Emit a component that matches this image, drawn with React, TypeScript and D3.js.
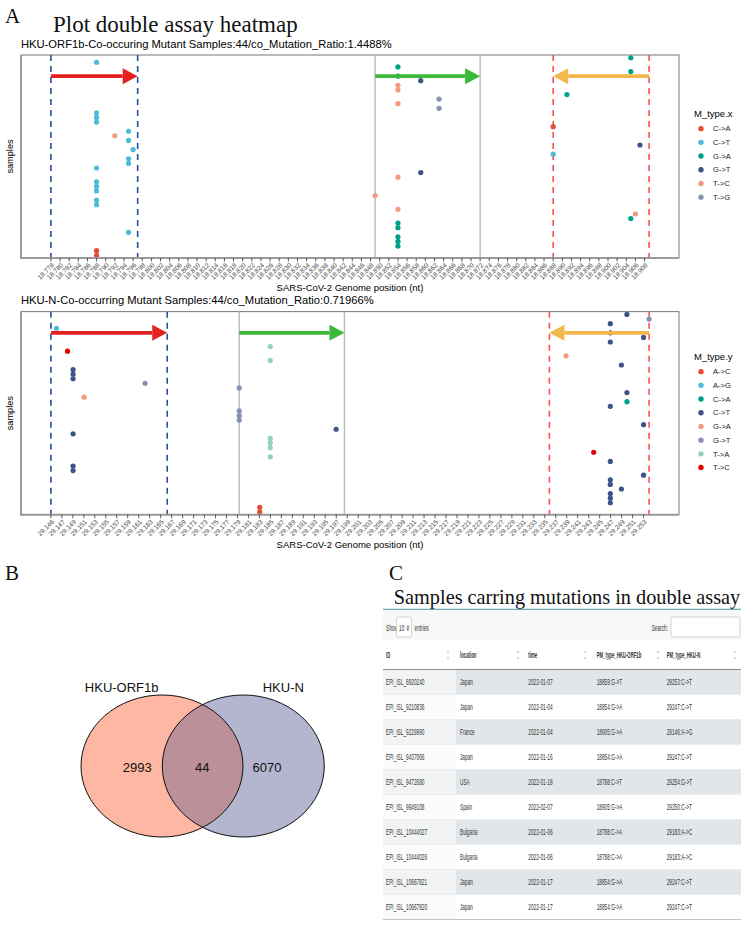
import React from "react";
import * as d3 from "d3";

const SANS = "'Liberation Sans', Arial, Helvetica, sans-serif";
const SERIF = "'Liberation Serif', 'Times New Roman', serif";

// npg palette (ggsci)
const npgColors = ["#E64B35", "#4DBBD5", "#00A087", "#3C5488", "#F39B7F", "#8491B4", "#91D1C2", "#DC0000"];

// ---- panel A, HKU-ORF1b (one point per sample, samples listed top to bottom)
const orf1bTypes = ["C->A", "C->T", "G->A", "G->T", "T->C", "T->G"];
const orf1bPositions = [
  18905, 18788, 18854, 18905, 18854, 18859, 18854, 18854, 18891, 18863, 18854,
  18863, 18788, 18788, 18788, 18888, 18795, 18792, 18795, 18907, 18796, 18888,
  18795, 18795, 18788, 18859, 18854, 18788, 18788, 18788, 18849, 18788, 18788,
  18854, 18906, 18905, 18854, 18854, 18795, 18854, 18854, 18854, 18788, 18788,
];
const orf1bMutations = [
  "G->A", "C->T", "G->A", "G->A", "G->A", "G->T", "T->C", "T->C", "G->A", "T->G", "T->C",
  "T->G", "C->T", "C->T", "C->T", "C->A", "C->T", "T->C", "C->T", "G->T", "C->T", "C->T",
  "C->T", "C->T", "C->T", "G->T", "T->C", "C->T", "C->T", "C->T", "T->C", "C->T", "C->T",
  "T->C", "T->C", "G->A", "G->A", "G->A", "C->T", "G->A", "G->A", "G->A", "C->A", "C->A",
];
const orf1bDomain = [18778, 18909];
const orf1bBreaks = d3.range(66).map((i) => 18778 + 2 * i);
const orf1bGuides = [18778, 18797, 18849, 18872, 18888, 18909];
const orf1bArrows = [[18778, 18797], [18849, 18872], [18909, 18888]];

// ---- panel A, HKU-N
const nTypes = ["A->C", "A->G", "C->A", "C->T", "G->A", "G->T", "T->A", "T->C"];
const nPositions = [
  29250, 29254, 29247, 29147, 29247, 29253, 29247, 29185.6, 29149, 29239, 29185.6,
  29249, 29150, 29150, 29150, 29163, 29180, 29250, 29152, 29250, 29247, 29180,
  29180, 29180, 29253, 29197.5, 29150, 29185.6, 29185.6, 29185.6, 29244, 29185.6, 29247,
  29150, 29150, 29253, 29247, 29247, 29249, 29247, 29247, 29247, 29183.7, 29183.7,
];
const nMutations = [
  "C->T", "G->T", "C->T", "A->G", "C->T", "C->T", "C->T", "T->A", "T->C", "G->A", "T->A",
  "C->T", "C->T", "C->T", "C->T", "G->T", "G->T", "C->T", "G->A", "C->A", "C->T", "G->T",
  "G->T", "G->T", "C->T", "C->T", "C->T", "T->A", "T->A", "T->A", "T->C", "T->A", "C->T",
  "C->T", "C->T", "C->T", "C->T", "C->T", "C->T", "C->T", "C->T", "C->T", "A->C", "A->C",
];
const nDomain = [29146, 29254];
const nBreaks = d3.range(55).map((i) => 29146 + (i * 107) / 54);
const nGuides = [29146, 29167, 29180, 29199, 29236, 29254];
const nArrows = [[29146, 29167], [29180, 29199], [29254, 29236]];

const guideStyles = [
  { stroke: "#2152A3", dash: "6 5", width: 1.6 },
  { stroke: "#2152A3", dash: "6 5", width: 1.6 },
  { stroke: "#BEBEBE", dash: "", width: 1.5 },
  { stroke: "#BEBEBE", dash: "", width: 1.5 },
  { stroke: "#FF4F4F", dash: "6 5", width: 1.6 },
  { stroke: "#FF4F4F", dash: "6 5", width: 1.6 },
];
const arrowColors = ["#E3211F", "#3CB83A", "#F2B84B"];

// ---- panel B
const vennNames = ["HKU-ORF1b", "HKU-N"];
const vennCounts = [2993, 44, 6070];

// ---- panel C
const tableHeaders = ["ID", "location", "time", "PM_type_HKU-ORF1b", "PM_type_HKU-N"];
const tableIds = [
  "EPI_ISL_8920240", "EPI_ISL_9210836", "EPI_ISL_9229990", "EPI_ISL_9437066", "EPI_ISL_9472680",
  "EPI_ISL_9949108", "EPI_ISL_10444027", "EPI_ISL_10444026", "EPI_ISL_10667821", "EPI_ISL_10667820",
];
const tableLocations = ["Japan", "Japan", "France", "Japan", "USA", "Spain", "Bulgaria", "Bulgaria", "Japan", "Japan"];
const tableTimes = [
  "2022-01-07", "2022-01-04", "2022-01-04", "2022-01-16", "2022-01-18",
  "2022-02-07", "2022-01-06", "2022-01-06", "2022-01-17", "2022-01-17",
];
const tableOrf1b = [
  "18859:G->T", "18854:G->A", "18905:G->A", "18854:G->A", "18788:C->T",
  "18905:G->A", "18788:C->A", "18788:C->A", "18854:G->A", "18854:G->A",
];
const tableN = [
  "29253:C->T", "29247:C->T", "29146:A->G", "29247:C->T", "29254:G->T",
  "29250:C->T", "29183:A->C", "29183:A->C", "29247:C->T", "29247:C->T",
];

interface PanelProps {
  title: string;
  top: number;
  positions: number[];
  mutations: string[];
  types: string[];
  domain: number[];
  breaks: number[];
  guides: number[];
  arrows: number[][];
  legendTitle: string;
}

const Panel: React.FC<PanelProps> = ({ title, top, positions, mutations, types, domain, breaks, guides, arrows, legendTitle }) => {
  const left = 21;
  const right = 679;
  const bottom = top + 203;
  const span = domain[1] - domain[0];
  const x = d3.scaleLinear().domain([domain[0] - 0.05 * span, domain[1] + 0.05 * span]).range([left, right]);
  const y = d3.scalePoint<number>().domain(d3.range(positions.length)).range([top, bottom]).padding(0.6);
  const color = d3.scaleOrdinal<string, string>().domain(types).range(npgColors);
  const fmt = d3.format(",");
  const arrowRow = 4;

  // legend vertically centred on the panel
  const legendH = 14.8 + (types.length - 1) * 13.7;
  const legendTop = (top + bottom) / 2 - 1 - legendH / 2;

  return (
    <g>
      <text x={left} y={top - 7.5} fontSize={11.2} fontFamily={SANS} fill="#000">{title}</text>
      <rect x={left} y={top} width={right - left} height={bottom - top} fill="#fff" stroke="#555" strokeWidth={0.8} />
      {guides.map((g, i) => (
        <line key={"g" + i} x1={x(g)} x2={x(g)} y1={top} y2={bottom}
          stroke={guideStyles[i].stroke} strokeWidth={guideStyles[i].width} strokeDasharray={guideStyles[i].dash} />
      ))}
      {positions.map((p, i) => (
        <circle key={"p" + i} cx={x(p)} cy={y(i)} r={2.6} fill={color(mutations[i])} />
      ))}
      {arrows.map((a, i) => {
        const x0 = x(a[0]);
        const x1 = x(a[1]);
        const dir = x1 > x0 ? 1 : -1;
        const yy = y(arrowRow) as number;
        const headL = 15;
        const headW = 8;
        return (
          <g key={"a" + i}>
            <line x1={x0} x2={x1 - dir * headL} y1={yy} y2={yy} stroke={arrowColors[i]} strokeWidth={3.6} />
            <polygon points={`${x1},${yy} ${x1 - dir * headL},${yy - headW} ${x1 - dir * headL},${yy + headW}`} fill={arrowColors[i]} />
          </g>
        );
      })}
      <line x1={left} x2={left} y1={top} y2={bottom + 1} stroke="#9a9a9a" strokeWidth={2} />
      <line x1={left - 1} x2={right} y1={bottom} y2={bottom} stroke="#9a9a9a" strokeWidth={2} />
      {breaks.map((b, i) => (
        <g key={"t" + i}>
          <line x1={x(b)} x2={x(b)} y1={bottom} y2={bottom + 3.5} stroke="#333" strokeWidth={0.8} />
          <text transform={`translate(${x(b) + 2},${bottom + 6}) rotate(-45)`} textAnchor="end" dy="0.35em"
            fontSize={6.6} fontFamily={SANS} fill="#4d4d4d">{fmt(Math.floor(b + 1e-6))}</text>
        </g>
      ))}
      <text x={(left + right) / 2} y={bottom + 33} textAnchor="middle" fontSize={9.5} fontFamily={SANS} fill="#000">
        SARS-CoV-2 Genome position (nt)
      </text>
      <text transform={`translate(${left - 8},${(top + bottom) / 2}) rotate(-90)`} textAnchor="middle"
        fontSize={9.2} fontFamily={SANS} fill="#000">samples</text>
      <g>
        <text x={694} y={legendTop} dy="0.35em" fontSize={9.5} fontFamily={SANS} fill="#000">{legendTitle}</text>
        {types.map((t, i) => (
          <g key={"l" + i}>
            <circle cx={701} cy={legendTop + 14.8 + i * 13.7} r={2.7} fill={color(t)} />
            <text x={713} y={legendTop + 14.8 + i * 13.7} dy="0.35em" fontSize={7.6} fontFamily={SANS} fill="#222">{t}</text>
          </g>
        ))}
      </g>
    </g>
  );
};

const Venn: React.FC = () => {
  const cx = d3.scaleLinear().domain([0, 1]).range([162, 243.3]);
  const cy = 766;
  const rx = 81;
  const ry = 71;
  return (
    <g>
      <defs>
        <clipPath id="venn-left">
          <ellipse cx={cx(0)} cy={cy} rx={rx} ry={ry} />
        </clipPath>
      </defs>
      <ellipse cx={cx(0)} cy={cy} rx={rx} ry={ry} fill="#FDB7A2" />
      <ellipse cx={cx(1)} cy={cy} rx={rx} ry={ry} fill="#B3B6CE" />
      <ellipse cx={cx(1)} cy={cy} rx={rx} ry={ry} fill="#BB9099" clipPath="url(#venn-left)" />
      <ellipse cx={cx(0)} cy={cy} rx={rx} ry={ry} fill="none" stroke="#111" strokeWidth={1} />
      <ellipse cx={cx(1)} cy={cy} rx={rx} ry={ry} fill="none" stroke="#111" strokeWidth={1} />
      <text x={121.7} y={691.5} textAnchor="middle" fontSize={13} fontFamily={SANS} fill="#111">{vennNames[0]}</text>
      <text x={283.3} y={691.5} textAnchor="middle" fontSize={13} fontFamily={SANS} fill="#111">{vennNames[1]}</text>
      <text x={137.3} y={767.7} dy="0.35em" textAnchor="middle" fontSize={13} fontFamily={SANS} fill="#111">{vennCounts[0]}</text>
      <text x={202.3} y={767.7} dy="0.35em" textAnchor="middle" fontSize={13} fontFamily={SANS} fill="#111">{vennCounts[1]}</text>
      <text x={267} y={767.7} dy="0.35em" textAnchor="middle" fontSize={13} fontFamily={SANS} fill="#111">{vennCounts[2]}</text>
    </g>
  );
};

const Cell: React.FC<{ x: number; y: number; s: string; bold?: boolean; anchor?: string; sx?: number }> = ({ x, y, s, bold, anchor, sx }) => (
  <text transform={`translate(${x},${y}) scale(${sx ?? 0.5},1)`} dy="0.35em" fontSize={9.5} fontFamily={SANS}
    fontWeight={bold ? "bold" : "normal"} textAnchor={anchor ?? "start"} fill="#333">{s}</text>
);

const Table: React.FC = () => {
  const left = 383;
  const right = 741;
  const colX = [386, 460, 528.3, 596.7, 666.7];
  const sortX = [448, 518, 585, 658, 735];
  const rows = d3.scaleBand<number>().domain(d3.range(tableIds.length)).range([669.5, 919.5]);
  const cols = [tableIds, tableLocations, tableTimes, tableOrf1b, tableN];
  return (
    <g>
      <text x={567} y={604} textAnchor="middle" fontSize={20.3} fontFamily={SERIF} fill="#111">
        Samples carring mutations in double assay
      </text>
      <rect x={left} y={609.5} width={right - left} height={30.5} fill="#f8f8f8" />
      <line x1={left} x2={right} y1={609.3} y2={609.3} stroke="#6aaab3" strokeWidth={1.2} />
      <Cell x={386} y={627.3} s="Show" />
      <rect x={396.5} y={617} width={15} height={20} rx={2} fill="#fff" stroke="#c8c8c8" strokeWidth={0.8} />
      <Cell x={399} y={627.3} s="10 ∨" />
      <Cell x={414.5} y={627.3} s="entries" />
      <Cell x={668} y={627.3} s="Search:" anchor="end" />
      <rect x={671} y={617} width={69} height={20} rx={2} fill="#fff" stroke="#c8c8c8" strokeWidth={0.8} />
      <rect x={left} y={640} width={right - left} height={29.5} fill="#fff" />
      {tableHeaders.map((h, i) => (
        <g key={"h" + i}>
          <Cell x={colX[i]} y={655} s={h} bold sx={0.45} />
          <polygon points={`${sortX[i] - 1.5},653 ${sortX[i] + 1.5},653 ${sortX[i]},650`} fill="#d6d6d6" />
          <polygon points={`${sortX[i] - 1.5},657 ${sortX[i] + 1.5},657 ${sortX[i]},660`} fill="#d6d6d6" />
        </g>
      ))}
      {tableIds.map((_, r) => {
        const y0 = rows(r) as number;
        const odd = r % 2 === 0;
        return (
          <g key={"r" + r}>
            <rect x={left} y={y0} width={456 - left} height={rows.bandwidth()} fill={odd ? "#f2f3f4" : "#fbfbfb"} />
            <rect x={456} y={y0} width={right - 456} height={rows.bandwidth()} fill={odd ? "#e1e6ea" : "#ffffff"} />
            <line x1={left} x2={right} y1={y0} y2={y0} stroke="#e6e6e6" strokeWidth={0.6} />
            {cols.map((c, ci) => (
              <Cell key={ci} x={colX[ci]} y={y0 + rows.bandwidth() / 2} s={c[r]} />
            ))}
          </g>
        );
      })}
      <line x1={left} x2={right} y1={669.5} y2={669.5} stroke="#8a8a8a" strokeWidth={1} />
      <line x1={left} x2={right} y1={919.5} y2={919.5} stroke="#c4c4c4" strokeWidth={1} />
    </g>
  );
};

export default function App() {
  return (
    <div style={{ position: "absolute", left: 0, top: 0 }}>
      <svg width={745} height={927} viewBox="0 0 745 927" style={{ display: "block", background: "#fff" }}>
        <rect width={745} height={927} fill="#fff" />
        <text x={5} y={23} fontSize={21} fontFamily={SERIF} fill="#111">A</text>
        <text x={53} y={31.5} fontSize={23} fontFamily={SERIF} fill="#111">Plot double assay heatmap</text>
        <Panel
          title="HKU-ORF1b-Co-occuring Mutant Samples:44/co_Mutation_Ratio:1.4488%"
          top={55}
          positions={orf1bPositions}
          mutations={orf1bMutations}
          types={orf1bTypes}
          domain={orf1bDomain}
          breaks={orf1bBreaks}
          guides={orf1bGuides}
          arrows={orf1bArrows}
          legendTitle="M_type.x"
        />
        <Panel
          title="HKU-N-Co-occurring Mutant Samples:44/co_Mutation_Ratio:0.71966%"
          top={311.7}
          positions={nPositions}
          mutations={nMutations}
          types={nTypes}
          domain={nDomain}
          breaks={nBreaks}
          guides={nGuides}
          arrows={nArrows}
          legendTitle="M_type.y"
        />
        <text x={5} y={580} fontSize={21} fontFamily={SERIF} fill="#111">B</text>
        <text x={389} y={580} fontSize={21} fontFamily={SERIF} fill="#111">C</text>
        <Venn />
        <Table />
      </svg>
    </div>
  );
}
